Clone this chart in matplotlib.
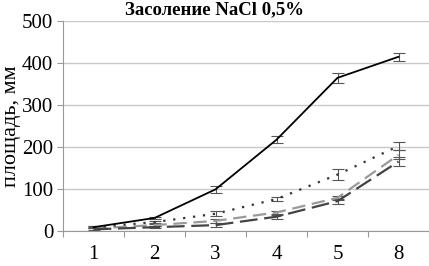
import matplotlib
matplotlib.use("Agg")
import matplotlib.pyplot as plt
import numpy as np

categories = ["1", "2", "3", "4", "5", "8"]
solid = [10, 32, 100, 218, 365, 415]
solid_err = [3, 3, 8, 8, 12, 9]
dotted = [10, 22, 42, 77, 135, 203]
dotted_err = [3, 3, 6, 5, 13, 10]
light_dash = [7, 15, 25, 45, 80, 182]
light_dash_err = [3, 3, 4, 4, 5, 11]
dark_dash = [5, 10, 15, 35, 72, 166]
dark_dash_err = [3, 3, 4, 5, 6, 10]
title = "Засоление NaCl 0,5%"
ylabel = "площадь, мм"

plt.rcParams['font.family'] = ['Liberation Serif', 'DejaVu Serif']

fig = plt.figure(figsize=(4.29, 2.66), dpi=100)
ax = fig.add_axes([0.147, 0.13, 0.853, 0.791])

x = np.arange(len(categories))
series = [
    (light_dash, light_dash_err, dict(color='#9a9a9a', lw=1.6, dashes=(6, 3))),
    (dark_dash, dark_dash_err, dict(color='#444444', lw=1.6, dashes=(8, 3))),
    (dotted, dotted_err, dict(color='#333333', lw=1.6, dashes=(1, 3.5))),
    (solid, solid_err, dict(color='#000000', lw=1.3)),
]
for vals, errs, st in series:
    ax.errorbar(x, vals, yerr=errs, ecolor='#555555', elinewidth=0.8,
                capsize=4, capthick=0.8, **st)

ax.set_xlim(-0.5, len(categories) - 0.5)
ax.set_ylim(0, 500)
ax.set_yticks([0, 100, 200, 300, 400, 500])
ax.set_xticks(x)
ax.set_xticklabels(categories)
ax.set_xticks(np.arange(-0.5, len(categories), 1.0), minor=True)
ax.tick_params(axis='x', which='major', length=0, pad=10, labelsize=15)
ax.tick_params(axis='x', which='minor', length=4, color='#999999', width=0.8)
ax.tick_params(axis='y', length=4, color='#999999', width=0.8, labelsize=15, pad=3)
ax.grid(axis='y', color='#c8c8c8', lw=1.0)
ax.set_axisbelow(True)
for s in ['top', 'right']:
    ax.spines[s].set_visible(False)
for s in ['left', 'bottom']:
    ax.spines[s].set_color('#999999')
    ax.spines[s].set_linewidth(0.8)

ax.set_ylabel(ylabel, fontsize=16, labelpad=1)
fig.text(0.5, 0.962, title, ha='center', va='center', fontsize=13.5, fontweight='bold')

fig.savefig("out.png", dpi=100)
